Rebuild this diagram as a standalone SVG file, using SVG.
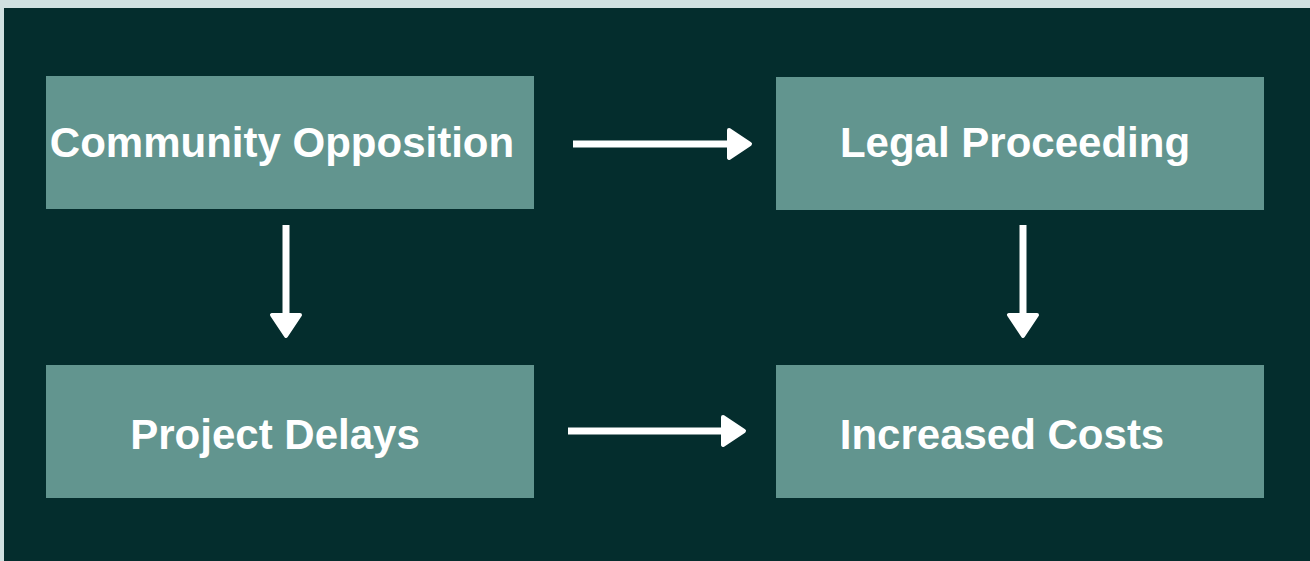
<svg xmlns="http://www.w3.org/2000/svg" width="1310" height="561" viewBox="0 0 1310 561">
  <defs>
    <style>
      .box { fill: #62958f; }
      .label { font-family: "Liberation Sans", Arial, sans-serif; font-weight: bold; font-size: 42px; fill: #ffffff; text-anchor: middle; }
      .shaft { stroke: #ffffff; stroke-width: 7; fill: none; }
      .head { fill: #ffffff; stroke: #ffffff; stroke-width: 4; stroke-linejoin: round; }
    </style>
  </defs>
  <!-- page background and frame -->
  <rect x="0" y="0" width="1310" height="561" fill="#d0e1e1"/>
  <rect x="4" y="8" width="1306" height="553" fill="#042d2d"/>

  <g id="node-community-opposition">
    <rect class="box" x="46" y="76" width="488" height="133"/>
    <text class="label" x="282" y="157">Community Opposition</text>
  </g>
  <g id="node-legal-proceeding">
    <rect class="box" x="776" y="77" width="488" height="133"/>
    <text class="label" x="1015" y="157">Legal Proceeding</text>
  </g>
  <g id="node-project-delays">
    <rect class="box" x="46" y="365" width="488" height="133"/>
    <text class="label" x="275" y="449">Project Delays</text>
  </g>
  <g id="node-increased-costs">
    <rect class="box" x="776" y="365" width="488" height="133"/>
    <text class="label" x="1002" y="449">Increased Costs</text>
  </g>

  <g id="connectors">
    <!-- Community Opposition -> Legal Proceeding -->
    <line class="shaft" x1="573" y1="144" x2="732" y2="144"/>
    <polygon class="head" points="729,130 750,144 729,158"/>
    <!-- Community Opposition -> Project Delays -->
    <line class="shaft" x1="286" y1="225" x2="286" y2="318"/>
    <polygon class="head" points="272,315 300,315 286,336"/>
    <!-- Legal Proceeding -> Increased Costs -->
    <line class="shaft" x1="1023" y1="225" x2="1023" y2="318"/>
    <polygon class="head" points="1009,315 1037,315 1023,336"/>
    <!-- Project Delays -> Increased Costs -->
    <line class="shaft" x1="568" y1="431" x2="726" y2="431"/>
    <polygon class="head" points="723,417 744,431 723,445"/>
  </g>
</svg>
